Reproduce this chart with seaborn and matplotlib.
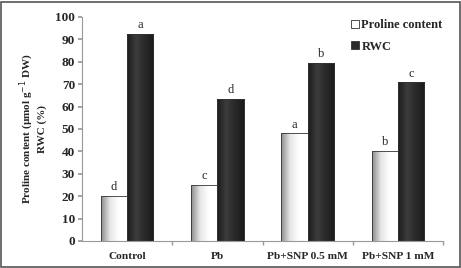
import numpy as np
import pandas as pd
import seaborn as sns
import matplotlib.pyplot as plt
from matplotlib.patches import Rectangle
from matplotlib.colors import LinearSegmentedColormap

sns.set_theme(style="white")
plt.rcParams['font.family'] = ['Liberation Serif', 'DejaVu Serif']

# data
treatments = ["Control", "Pb", "Pb+SNP 0.5 mM", "Pb+SNP 1 mM"]
proline = [20.0, 25.0, 48.0, 40.3]
rwc = [92.5, 63.3, 79.6, 70.8]
proline_letters = ["d", "c", "a", "b"]
rwc_letters = ["a", "d", "b", "c"]

df = pd.DataFrame({
    "treatment": treatments * 2,
    "value": proline + rwc,
    "series": ["Proline content"] * 4 + ["RWC"] * 4,
})

fig = plt.figure(figsize=(4.61, 2.68), dpi=100)
ax = fig.add_axes([0.178, 0.101, 0.783, 0.836])

sns.barplot(data=df, x="treatment", y="value", hue="series", ax=ax,
            palette=["white", "#2a2a2a"], width=0.58, edgecolor="#333333",
            linewidth=0.6, errorbar=None)

# horizontal shading inside the bars, like the original
cmaps = [
    LinearSegmentedColormap.from_list("w", ["#8c8c8c", "#e6e6e6", "#ffffff", "#ffffff"]),
    LinearSegmentedColormap.from_list("k", ["#1c1c1c", "#3c3c3c", "#2a2a2a", "#1a1a1a"]),
]
grad = np.linspace(0, 1, 64).reshape(1, -1)
for cont, cm in zip(ax.containers, cmaps):
    for bar in cont:
        x0, w, h = bar.get_x(), bar.get_width(), bar.get_height()
        im = ax.imshow(grad, cmap=cm, aspect="auto", extent=[x0, x0 + w, 0, h],
                       zorder=bar.get_zorder() + 0.1)
        im.set_clip_path(bar)
        edge = Rectangle((x0, 0), w, h, fill=False, edgecolor="#333333",
                         linewidth=0.6, zorder=bar.get_zorder() + 0.2)
        ax.add_patch(edge)

ax.bar_label(ax.containers[0], labels=proline_letters, padding=2, fontsize=9)
ax.bar_label(ax.containers[1], labels=rwc_letters, padding=2, fontsize=9)

ax.set_ylim(0, 100)
ax.set_yticks(np.arange(0, 101, 10))
ax.set_xlim(-0.5, 3.5)
ax.set_xticks(np.arange(0.5, 3.6, 1), minor=True)
ax.tick_params(axis="x", which="major", length=0, pad=8)
ax.tick_params(axis="x", which="minor", length=3, color="#999999", bottom=True)
ax.tick_params(axis="y", length=3, color="#999999", left=True, pad=2)
for lab in ax.get_xticklabels():
    lab.set_fontweight("bold")
    lab.set_fontsize(8.2)
for lab in ax.get_yticklabels():
    lab.set_fontweight("bold")
    lab.set_fontsize(9.5)

for s in ["top", "right"]:
    ax.spines[s].set_visible(False)
for s in ["left", "bottom"]:
    ax.spines[s].set_color("#999999")
    ax.spines[s].set_linewidth(0.8)

ax.set_xlabel("")
ax.set_ylabel("Proline content (µmol g$^{-1}$ DW)\nRWC (%)", fontsize=8,
              fontweight="bold", labelpad=6)

leg = ax.legend(loc="upper right", bbox_to_anchor=(1.03, 1.04), frameon=False,
                handlelength=0.6, handleheight=0.6, handletextpad=0.2,
                labelspacing=0.75, prop={"weight": "bold", "size": 9})
for hnd in leg.legend_handles:
    hnd.set_edgecolor("#333333")

fig.patches.append(Rectangle((0.003, 0.004), 0.994, 0.99, transform=fig.transFigure,
                             fill=False, edgecolor="#555555", linewidth=1.2))

fig.savefig("out.png", dpi=100)
